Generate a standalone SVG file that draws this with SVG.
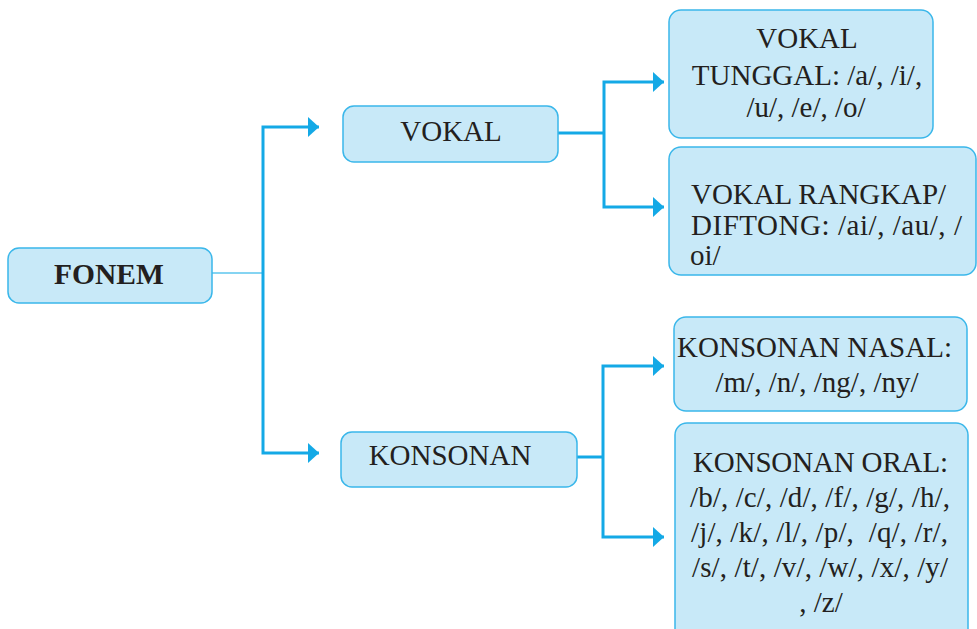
<svg xmlns="http://www.w3.org/2000/svg" width="977" height="629" viewBox="0 0 977 629">
<defs>
<style>
.box{fill:#c8e9f8;stroke:#3ab7ea;stroke-width:1.5}
.t{font-family:"Liberation Serif","Times New Roman",serif;font-size:29px;fill:#231f20;white-space:pre}
.c{text-anchor:middle}
.b{font-weight:bold;font-size:29.5px}
.ln{fill:none;stroke:#14a9e6;stroke-width:3}
.thin{fill:none;stroke:#5cc6ee;stroke-width:1.5}
</style>
<marker id="ah" markerUnits="userSpaceOnUse" markerWidth="12" markerHeight="22" refX="11" refY="10.5" orient="auto">
<path d="M0,0.5 L11,10.5 L0,20.5 Z" fill="#14a9e6"/>
</marker>
</defs>
<rect width="977" height="629" fill="#ffffff"/>
<g id="connectors">
<path class="thin" d="M212,273 H263"/>
<path class="ln" d="M263,273 V127 H319" marker-end="url(#ah)"/>
<path class="ln" d="M263,273 V453 H319" marker-end="url(#ah)"/>
<path class="ln" d="M558,133 H604"/>
<path class="ln" d="M604,133 V82 H664" marker-end="url(#ah)"/>
<path class="ln" d="M604,133 V207 H664" marker-end="url(#ah)"/>
<path class="ln" d="M577,457 H603"/>
<path class="ln" d="M603,457 V366 H664" marker-end="url(#ah)"/>
<path class="ln" d="M603,457 V537 H664" marker-end="url(#ah)"/>
</g>
<g id="fonem">
<rect class="box" x="8" y="248" width="204" height="55" rx="11"/>
<text class="t c b" x="109" y="284">FONEM</text>
</g>
<g id="vokal">
<rect class="box" x="343" y="106" width="215" height="56" rx="11"/>
<text class="t c" x="451" y="141">VOKAL</text>
</g>
<g id="konsonan">
<rect class="box" x="341" y="432" width="236" height="55" rx="11"/>
<text class="t c" x="450" y="465">KONSONAN</text>
</g>
<g id="vokal-tunggal">
<rect class="box" x="669" y="10" width="264" height="128" rx="12"/>
<text class="t c" x="807" y="48">VOKAL</text>
<text class="t c" x="807" y="85">TUNGGAL: /a/, /i/,</text>
<text class="t c" x="806" y="117">/u/, /e/, /o/</text>
</g>
<g id="vokal-rangkap">
<rect class="box" x="669" y="147" width="307" height="128" rx="12"/>
<text class="t" x="691" y="204" textLength="255" lengthAdjust="spacing">VOKAL RANGKAP/</text>
<text class="t" x="691" y="235" textLength="271" lengthAdjust="spacing">DIFTONG: /ai/, /au/, /</text>
<text class="t" x="690" y="265">oi/</text>
</g>
<g id="konsonan-nasal">
<rect class="box" x="674" y="317" width="293" height="94" rx="12"/>
<text class="t" x="677" y="357" textLength="275" lengthAdjust="spacing">KONSONAN NASAL:</text>
<text class="t c" x="817" y="392">/m/, /n/, /ng/, /ny/</text>
</g>
<g id="konsonan-oral">
<rect class="box" x="675" y="423" width="293" height="220" rx="12"/>
<text class="t" x="693" y="472" textLength="255" lengthAdjust="spacing">KONSONAN ORAL:</text>
<text class="t" x="690" y="507" textLength="260" lengthAdjust="spacing">/b/, /c/, /d/, /f/, /g/, /h/,</text>
<text class="t" x="691" y="542" textLength="257" lengthAdjust="spacing">/j/, /k/, /l/, /p/,  /q/, /r/,</text>
<text class="t" x="692" y="577" textLength="256" lengthAdjust="spacing">/s/, /t/, /v/, /w/, /x/, /y/</text>
<text class="t c" x="821" y="612">, /z/</text>
</g>
</svg>
